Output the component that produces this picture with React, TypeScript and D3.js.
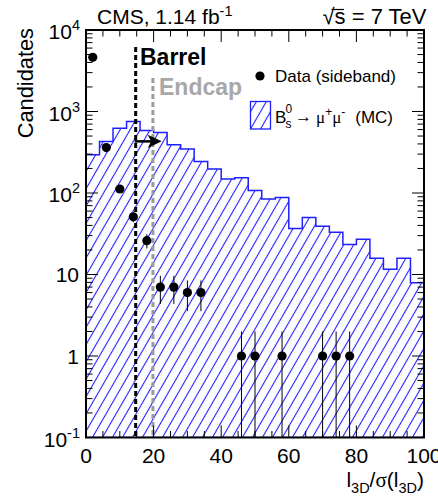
import React from "react";
import * as d3 from "d3";

// ---- data ----
const binLow = [0, 4, 8, 12, 16, 20, 24, 28, 32, 36, 40, 44, 48, 52, 56, 60, 64, 68, 72, 76, 80, 84, 88, 92, 96];
const binWidth = 4;
const mcCounts = [294, 428, 625, 752, 584, 552, 390, 346, 244, 197, 148, 154, 107, 84.5, 88, 36.6, 50, 39, 33, 23.3, 27, 15.8, 11.6, 15.8, 7.9];
const dataX = [2, 6, 10, 14, 18, 22, 26, 30, 34, 46, 50, 58, 70, 74, 78];
const dataY = [4620, 361, 112, 51, 26, 7, 7, 6, 6, 1, 1, 1, 1, 1, 1];
const xTickLabels = [0, 20, 40, 60, 80, 100];
const yTickExps = [-1, 2, 3, 4];
const yTickPlain = [1, 10];
const cutBarrel = 14.7;
const cutEndcap = 19.8;
const arrowFrom = 14.4;
const arrowTo = 22.4;
const arrowAt = 430;

const FONT = "'Liberation Sans', Arial, Helvetica, sans-serif";
const SERIF = "'Liberation Serif', 'DejaVu Serif', serif";
const BLUE = "#1f1fff";

export default function App() {
  const W = 438, H = 498;
  const x = d3.scaleLinear().domain([0, 100]).range([86, 424]);
  const y = d3.scaleLog().domain([0.1, 1e4]).range([437.5, 30]);
  const yb = y(0.1);

  // histogram path
  let histD = `M${x(0)},${yb}`;
  binLow.forEach((lo, i) => {
    histD += `L${x(lo)},${y(mcCounts[i])}L${x(lo + binWidth)},${y(mcCounts[i])}`;
  });
  histD += `L${x(100)},${yb}Z`;

  const xMinor = d3.range(0, 101, 5);
  const yMinor: number[] = [];
  for (let e = -1; e < 4; e++) for (let m = 1; m <= 9; m++) yMinor.push(m * Math.pow(10, e));
  yMinor.push(1e4);

  const L = 86, R = 424, T = 30, B = 437.5;

  return (
    <svg width={W} height={H} style={{ position: "absolute", left: 0, top: 0, background: "#fff" }} fontFamily={FONT}>
      <defs>
        <pattern id="hatch" patternUnits="userSpaceOnUse" width={8.66} height={8.66} patternTransform="rotate(30)">
          <line x1={4.33} y1={-1} x2={4.33} y2={10} stroke={BLUE} strokeWidth={1.1} />
        </pattern>
        <clipPath id="frame">
          <rect x={L} y={T} width={R - L} height={B - T} />
        </clipPath>
      </defs>
      <rect width={W} height={H} fill="#fff" />

      <g clipPath="url(#frame)">
        <path d={histD} fill="url(#hatch)" stroke={BLUE} strokeWidth={1.5} />
        {/* cut lines */}
        <line x1={x(cutBarrel)} x2={x(cutBarrel)} y1={47} y2={B} stroke="#000" strokeWidth={3} strokeDasharray="5 3" />
        <line x1={x(cutEndcap)} x2={x(cutEndcap)} y1={78} y2={B} stroke="#9a9a9a" strokeWidth={3} strokeDasharray="5 3" />
        {/* data */}
        {dataX.map((dx, i) => {
          const v = dataY[i];
          const err = Math.sqrt(v);
          const lo = Math.max(v - err, 0.1);
          return (
            <g key={i}>
              <line x1={x(dx)} x2={x(dx)} y1={y(lo)} y2={y(v + err)} stroke="#000" strokeWidth={1} />
              <circle cx={x(dx)} cy={y(v)} r={4.6} fill="#000" />
            </g>
          );
        })}
      </g>

      {/* arrow */}
      <line x1={x(arrowFrom)} x2={x(arrowTo) - 10} y1={y(arrowAt)} y2={y(arrowAt)} stroke="#000" strokeWidth={2.5} />
      <path
        d={`M${x(arrowTo)},${y(arrowAt)}L${x(arrowTo) - 14},${y(arrowAt) - 6.7}L${x(arrowTo) - 10.5},${y(arrowAt)}L${x(arrowTo) - 14},${y(arrowAt) + 6.7}Z`}
        fill="#000"
      />

      {/* frame */}
      <rect x={L} y={T} width={R - L} height={B - T} fill="none" stroke="#000" strokeWidth={2} />

      {/* x ticks */}
      {xMinor.map((t) => {
        const len = t % 20 === 0 ? 12 : 6.5;
        return (
          <g key={"xt" + t}>
            <line x1={x(t)} x2={x(t)} y1={B} y2={B - len} stroke="#000" strokeWidth={1} />
            <line x1={x(t)} x2={x(t)} y1={T} y2={T + len} stroke="#000" strokeWidth={1} />
          </g>
        );
      })}
      {/* y ticks */}
      {yMinor.map((t, i) => {
        const major = Math.abs(Math.log10(t) - Math.round(Math.log10(t))) < 1e-9;
        const len = major ? 12 : 6.5;
        return (
          <g key={"yt" + i}>
            <line x1={L} x2={L + len} y1={y(t)} y2={y(t)} stroke="#000" strokeWidth={1} />
            <line x1={R} x2={R - len} y1={y(t)} y2={y(t)} stroke="#000" strokeWidth={1} />
          </g>
        );
      })}

      {/* x tick labels */}
      {xTickLabels.map((t) => (
        <text key={"xl" + t} x={x(t)} y={463} fontSize={21} textAnchor="middle">
          {t}
        </text>
      ))}
      {/* y tick labels */}
      {yTickExps.map((e) => (
        <text key={"ye" + e} x={80} y={y(Math.pow(10, e)) + 9} fontSize={21} textAnchor="end">
          10
          <tspan fontSize={14.5} dy={-9}>{e}</tspan>
        </text>
      ))}
      {yTickPlain.map((v) => (
        <text key={"yp" + v} x={79} y={y(v) + 7.5} fontSize={21} textAnchor="end">
          {v}
        </text>
      ))}

      {/* axis titles */}
      <text x={424} y={487} fontSize={21} textAnchor="end">
        l<tspan fontSize={14.5} dy={6}>3D</tspan>
        <tspan dy={-6}>/</tspan>
        <tspan fontFamily={SERIF}>σ</tspan>
        <tspan>(l</tspan>
        <tspan fontSize={14.5} dy={6}>3D</tspan>
        <tspan dy={-6}>)</tspan>
      </text>
      <text transform="translate(33,28) rotate(-90)" fontSize={21.8} textAnchor="end">
        Candidates
      </text>

      {/* header */}
      <text x={97} y={23.5} fontSize={21}>
        CMS, 1.14 fb<tspan fontSize={14.5} dy={-8}>-1</tspan>
      </text>
      <text x={426.5} y={24} fontSize={22} textAnchor="end">
        √s = 7 TeV
      </text>
      <line x1={331.5} x2={344} y1={9.5} y2={9.5} stroke="#000" strokeWidth={1.2} />

      {/* cut labels */}
      <text x={140} y={64.5} fontSize={23} fontWeight="bold" fill="#000">
        Barrel
      </text>
      <text x={159} y={95} fontSize={23} fontWeight="bold" fill="#a8a8a8">
        Endcap
      </text>

      {/* legend */}
      <circle cx={260} cy={76} r={4.6} fill="#000" />
      <text x={275} y={82} fontSize={17}>
        Data (sideband)
      </text>
      <rect x={250.5} y={101.5} width={20} height={27.5} fill="url(#hatch)" stroke={BLUE} strokeWidth={1.3} />
      <text x={275} y={123} fontSize={17}>B</text>
      <text x={285.5} y={113} fontSize={12}>0</text>
      <text x={285.5} y={128} fontSize={12}>s</text>
      <text x={295} y={122} fontSize={17}>→</text>
      <text x={316} y={123} fontSize={17}>
        <tspan fontFamily={SERIF}>μ</tspan>
        <tspan fontSize={12} dy={-7}>+</tspan>
        <tspan fontFamily={SERIF} dy={7}>μ</tspan>
        <tspan fontSize={12} dy={-7}>-</tspan>
      </text>
      <text x={393} y={123} fontSize={17} textAnchor="end">
        (MC)
      </text>
    </svg>
  );
}
